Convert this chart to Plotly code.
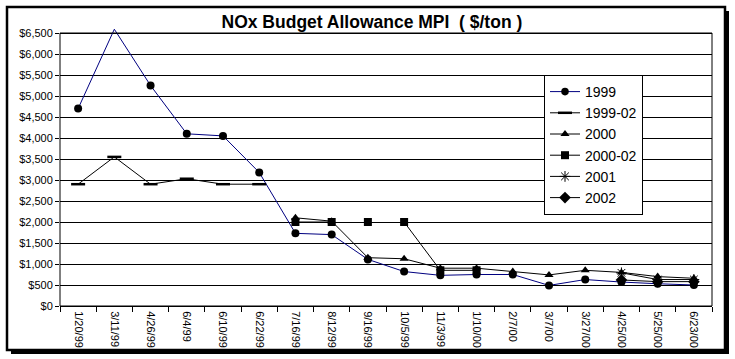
import plotly.graph_objects as go

categories = ["1/20/99", "3/11/99", "4/26/99", "6/4/99", "6/10/99", "6/22/99", "7/16/99",
              "8/12/99", "9/16/99", "10/5/99", "11/3/99", "1/10/00", "2/7/00", "3/7/00",
              "3/27/00", "4/25/00", "5/25/00", "6/23/00"]
N = None
s1999 = [4700, 6590, 5250, 4100, 4050, 3180, 1730, 1700, 1110, 820, 730, 750, 750, 490, 630, 570, 530, 500]
s1999_marker = [1, 0, 1, 1, 1, 1, 1, 1, 1, 1, 1, 1, 1, 1, 1, 1, 1, 1]
s1999_02 = [2900, 3550, 2900, 3030, 2900, 2900, N, N, N, N, N, N, N, N, N, N, N, N]
s2000 = [N, N, N, N, N, N, 2100, 2020, 1150, 1125, 900, 900, 820, 740, 850, 800, 700, 660]
s2000_02 = [N, N, N, N, N, N, 2000, 2000, 2000, 2000, 850, 850, N, N, N, N, N, N]
s2000_02_link = [1, 1, 1, 1, 1, 1, 1, 0, 0, 1, 1, 1, 1, 1, 1, 1, 1, 1]  # segment drawn to next point
s2001 = [N, N, N, N, N, N, N, N, N, N, N, N, N, N, N, 790, 630, 630]
s2002 = [N, N, N, N, N, N, N, N, N, N, N, N, N, N, N, 620, 580, 580]
yticks = list(range(0, 6501, 500))
ytick_text = ["$" + format(v, ",") for v in yticks]
legend_names = ["1999", "1999-02", "2000", "2000-02", "2001", "2002"]

W, H = 735, 359
L, R, T, B = 60, 712, 29, 306
Y_TOP_PX = 33  # pixel row of the $6,500 line
YMAX = 6500 * (B - T) / (B - Y_TOP_PX)


def px(xp):
    return (xp - L) / (R - L)


def py(yp):
    return (B - yp) / (B - T)


blk = dict(color="black", width=0)
fig = go.Figure()
fig.add_trace(go.Scatter(x=categories, y=s1999, name=legend_names[0], mode="lines+markers",
                         line=dict(color="#000080", width=1),
                         marker=dict(symbol="circle", color="#000000", opacity=1, line=blk,
                                     size=[8 * m for m in s1999_marker])))
fig.add_trace(go.Scatter(x=categories, y=s1999_02, name=legend_names[1], mode="lines+markers",
                         line=dict(color="black", width=1),
                         marker=dict(symbol="line-ew", size=10, line=dict(color="black", width=2.5))))
fig.add_trace(go.Scatter(x=categories, y=s2000, name=legend_names[2], mode="lines+markers",
                         line=dict(color="black", width=1),
                         marker=dict(symbol="triangle-up", color="black", size=8, line=blk)))

# 2000-02: line segments only where drawn; isolated points as markers only
seg_x, seg_y, iso_x, iso_y = [], [], [], []
n = len(categories)
for i in range(n):
    if s2000_02[i] is None:
        continue
    prev_ok = i > 0 and s2000_02[i - 1] is not None and s2000_02_link[i - 1]
    next_ok = i < n - 1 and s2000_02[i + 1] is not None and s2000_02_link[i]
    if not prev_ok and not next_ok:
        iso_x.append(categories[i])
        iso_y.append(s2000_02[i])
        continue
    if not prev_ok and seg_x:
        seg_x.append(None)
        seg_y.append(None)
    seg_x.append(categories[i])
    seg_y.append(s2000_02[i])
fig.add_trace(go.Scatter(x=seg_x, y=seg_y, name=legend_names[3], mode="lines+markers",
                         legendgroup="g4", connectgaps=False,
                         line=dict(color="black", width=1),
                         marker=dict(symbol="square", color="black", size=8, line=blk)))
fig.add_trace(go.Scatter(x=iso_x, y=iso_y, name=legend_names[3], mode="markers",
                         legendgroup="g4", showlegend=False,
                         marker=dict(symbol="square", color="black", size=8, line=blk)))

fig.add_trace(go.Scatter(x=categories, y=s2001, name=legend_names[4], mode="lines+markers",
                         line=dict(color="black", width=1),
                         marker=dict(symbol="asterisk-open", size=9, line=dict(color="black", width=1))))
fig.add_trace(go.Scatter(x=categories, y=s2002, name=legend_names[5], mode="lines+markers",
                         line=dict(color="black", width=1),
                         marker=dict(symbol="diamond", color="black", size=9, line=blk)))

shapes = [
    # plot area frame (top edge at $6,500)
    dict(type="rect", xref="paper", yref="y", x0=0, x1=1, y0=0, y1=6500,
         line=dict(color="black", width=1), layer="above"),
    # outer chart border
    dict(type="rect", xref="paper", yref="paper", x0=px(7), x1=px(725), y0=py(350), y1=py(7),
         line=dict(color="black", width=2.5)),
    # shadow right
    dict(type="rect", xref="paper", yref="paper", x0=px(724), x1=px(729), y0=py(354), y1=py(11),
         fillcolor="black", line=dict(width=0)),
    # shadow bottom
    dict(type="rect", xref="paper", yref="paper", x0=px(11), x1=px(729), y0=py(354), y1=py(349),
         fillcolor="black", line=dict(width=0)),
]

fig.update_layout(
    width=W, height=H,
    margin=dict(l=L, r=W - R, t=T, b=H - B, pad=0),
    paper_bgcolor="white", plot_bgcolor="white",
    font=dict(family="Liberation Sans, Arial", color="black", size=11),
    title=dict(text="<b>NOx Budget Allowance MPI  ( $/ton )</b>", xref="container", x=0.506,
               xanchor="center", yref="container", y=0.94, yanchor="middle",
               font=dict(size=17.5, family="Liberation Sans, Arial", color="black")),
    showlegend=True,
    legend=dict(x=px(544), y=py(75), xanchor="left", yanchor="top",
                bgcolor="white", bordercolor="black", borderwidth=1,
                font=dict(size=14, family="Liberation Sans, Arial", color="black"),
                tracegroupgap=0, itemwidth=30),
    shapes=shapes,
    xaxis=dict(type="category", categoryorder="array", categoryarray=categories,
               range=[-0.5, len(categories) - 0.5], showgrid=False, tickangle=90,
               tickson="boundaries", ticks="outside", ticklen=5, tickcolor="black",
               showline=True, linecolor="black", linewidth=1, ticklabelstandoff=2,
               tickfont=dict(size=11), zeroline=False, automargin=False),
    yaxis=dict(range=[0, YMAX], tickvals=yticks, ticktext=ytick_text,
               showgrid=True, gridcolor="black", gridwidth=1, ticks="outside", ticklen=4,
               tickcolor="black", showline=False, linecolor="black", linewidth=1,
               tickfont=dict(size=11), zeroline=False, automargin=False),
)

fig.write_html("out.html", config={"displayModeBar": False},
               post_script="document.body.style.margin='0';")
